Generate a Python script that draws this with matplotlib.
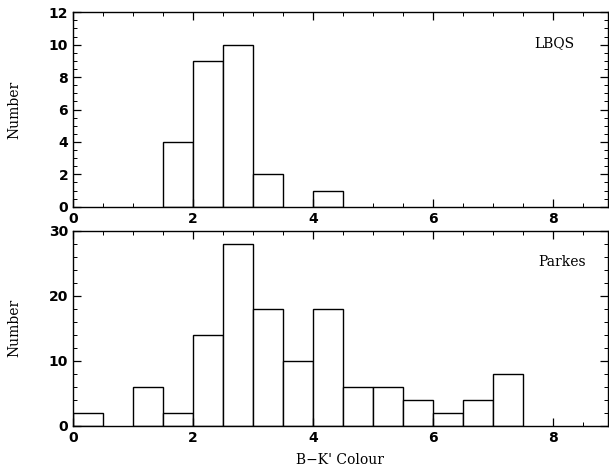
import numpy as np
import matplotlib.pyplot as plt
from matplotlib.ticker import MultipleLocator

# bin edges (width 0.5) and counts
bin_edges = np.arange(0, 8.01, 0.5)
lbqs_counts = [0, 0, 0, 4, 9, 10, 2, 0, 1, 0, 0, 0, 0, 0, 0, 0]
parkes_counts = [2, 0, 6, 2, 14, 28, 18, 10, 18, 6, 6, 4, 2, 4, 8, 0]

labels = ["LBQS", "Parkes"]
label_x = [0.90, 0.915]
ymax = [12, 30]
ymajor = [2, 10]
yminor = [0.5, 2]

serif = {'family': 'DejaVu Serif'}

fig = plt.figure(figsize=(6.09, 4.70), dpi=100)
ax1 = fig.add_axes([0.12, 0.560, 0.878, 0.414])
ax2 = fig.add_axes([0.12, 0.094, 0.878, 0.415])

for ax, counts, lab, lx, ym, ma, mi in zip([ax1, ax2], [lbqs_counts, parkes_counts],
                                           labels, label_x, ymax, ymajor, yminor):
    left = bin_edges[:-1]
    for x0, c in zip(left, counts):
        if c > 0:
            ax.bar(x0, c, width=0.5, align='edge', facecolor='white',
                   edgecolor='black', linewidth=1.0)
    ax.set_xlim(0, 8.92)
    ax.set_ylim(0, ym)
    ax.xaxis.set_major_locator(MultipleLocator(2))
    ax.xaxis.set_minor_locator(MultipleLocator(0.5))
    ax.yaxis.set_major_locator(MultipleLocator(ma))
    ax.yaxis.set_minor_locator(MultipleLocator(mi))
    ax.tick_params(which='both', direction='in', top=True, right=True)
    ax.tick_params(which='major', length=6, width=0.9)
    ax.tick_params(which='minor', length=3, width=0.7)
    for t in ax.get_xticklabels() + ax.get_yticklabels():
        t.set_fontweight('bold')
        t.set_fontsize(10)
    for s in ax.spines.values():
        s.set_linewidth(1.0)
    ax.set_ylabel("Number", fontdict=serif, fontsize=10, labelpad=20)
    ax.text(lx, 0.84, lab, transform=ax.transAxes, ha='center', va='center',
            fontdict=serif, fontsize=10)

ax2.set_xlabel("B\u2212K' Colour", fontdict=serif, fontsize=10, labelpad=6)

fig.savefig("out.png", dpi=100)
